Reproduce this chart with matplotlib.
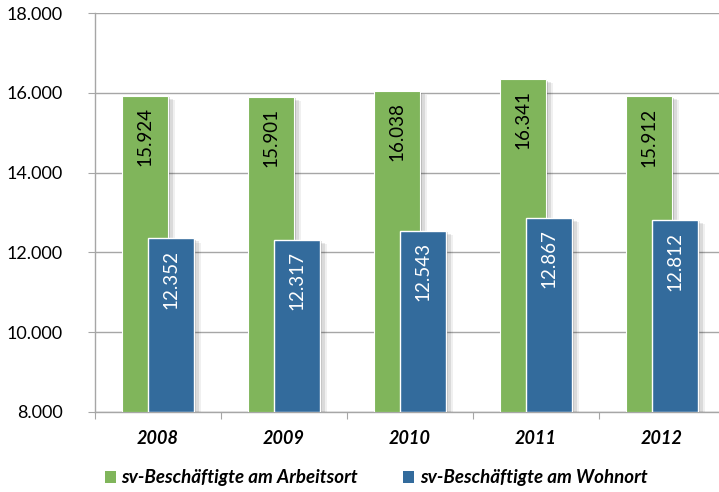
import matplotlib
matplotlib.use('Agg')
import matplotlib.pyplot as plt
import matplotlib.patheffects as pe
import numpy as np

# Sozialversicherungspflichtig Beschäftigte
jahre = ['2008', '2009', '2010', '2011', '2012']
arbeitsort = [15924, 15901, 16038, 16341, 15912]
wohnort = [12352, 12317, 12543, 12867, 12812]
y_ticks = [8000, 10000, 12000, 14000, 16000, 18000]

gruen = '#80b55b'
blau = '#336b9c'
grau = '#a6a6a6'

plt.rcParams['font.family'] = ['Lato', 'DejaVu Sans']

fig = plt.figure(figsize=(7.19, 4.92), dpi=100)
# rechter Rand läuft über die Bildkante hinaus
ax = fig.add_axes([95 / 719, 80 / 492, 630 / 719, 399 / 492])

x = np.arange(len(jahre))
breite = 0.36
versatz = 0.103

schatten = [pe.SimplePatchShadow(offset=(5, -3), shadow_rgbFace='#000000', alpha=0.06),
            pe.SimplePatchShadow(offset=(4, -2), shadow_rgbFace='#000000', alpha=0.09),
            pe.SimplePatchShadow(offset=(2, -1), shadow_rgbFace='#000000', alpha=0.15),
            pe.Normal()]

b1 = ax.bar(x - versatz, [v - 8000 for v in arbeitsort], breite, bottom=8000,
            color=gruen, edgecolor='white', linewidth=0.8, zorder=3,
            label='sv-Beschäftigte am Arbeitsort')
b2 = ax.bar(x + versatz, [v - 8000 for v in wohnort], breite, bottom=8000,
            color=blau, edgecolor='white', linewidth=1.0, zorder=4,
            label='sv-Beschäftigte am Wohnort')
for b in list(b1) + list(b2):
    b.set_path_effects(schatten)

# Werte senkrecht in die Balken schreiben
for xi, v in zip(x, arbeitsort):
    ax.text(xi - versatz, v - 280, f'{v:,}'.replace(',', '.'), rotation=90,
            ha='center', va='top', fontsize=13.5, color='black', zorder=5)
for xi, v in zip(x, wohnort):
    ax.text(xi + versatz, v - 290, f'{v:,}'.replace(',', '.'), rotation=90,
            ha='center', va='top', fontsize=13.5, color='white', zorder=5)

ax.set_ylim(8000, 18000)
ax.set_xlim(-0.5, len(jahre) - 0.5)
ax.set_yticks(y_ticks)
ax.set_yticklabels([f'{t:,}'.replace(',', '.') for t in y_ticks], fontsize=13)
ax.yaxis.grid(True, color=grau, linewidth=1.0, zorder=0)
ax.set_axisbelow(True)

# Teilstriche zwischen den Kategorien, Beschriftung mittig
ax.set_xticks(np.arange(len(jahre) + 1) - 0.5)
ax.set_xticklabels([])
ax.set_xticks(x, minor=True)
ax.set_xticklabels(jahre, minor=True, fontsize=13, fontweight='bold', style='italic')
ax.tick_params(axis='x', which='major', length=5, color=grau, direction='out')
ax.tick_params(axis='x', which='minor', length=0, pad=13)
ax.tick_params(axis='y', length=5, color=grau, pad=18)

for s in ['top', 'right']:
    ax.spines[s].set_visible(False)
for s in ['left', 'bottom']:
    ax.spines[s].set_color(grau)
    ax.spines[s].set_linewidth(1.0)

leg = fig.legend(handles=[b1, b2], loc='center', ncol=2, frameon=False,
                 prop={'size': 13.5, 'style': 'italic', 'weight': 'bold'},
                 handlelength=0.6, handleheight=0.6, handletextpad=0.3,
                 columnspacing=2.4)
leg.set_bbox_to_anchor((376 / 719, 1 - 478 / 492), transform=fig.transFigure)
for h in leg.legend_handles:
    h.set_path_effects([])
    h.set_edgecolor('none')

fig.savefig('out.png', dpi=100)
